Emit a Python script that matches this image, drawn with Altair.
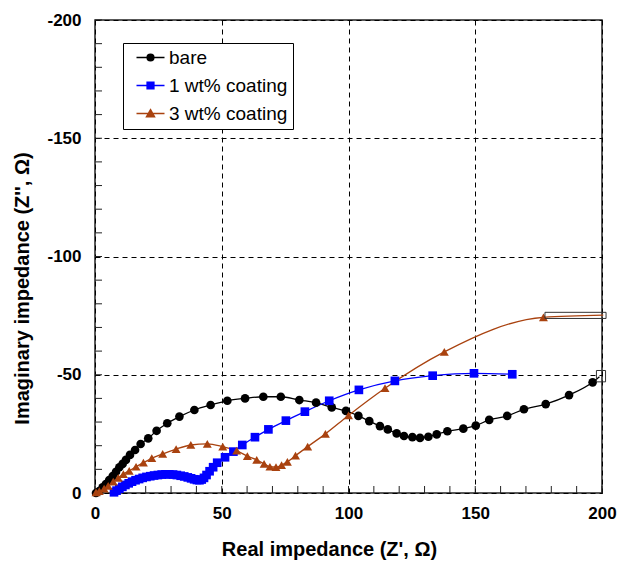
import altair as alt
import pandas as pd

# ---------------- data ----------------
series_names = ["bare", "1 wt% coating", "3 wt% coating"]
series_colors = ["#000000", "#0000FF", "#A9420F"]

bare_x = [0.4, 1.7, 3.0, 4.3, 5.6, 7.0, 8.3, 9.6, 10.9, 12.2, 13.8, 15.8, 18.0, 21.0,
          24.3, 28.5, 33.3, 39.2, 45.6, 52.2, 59.2, 66.4, 73.3, 80.6, 87.2, 93.4, 99.0,
          103.9, 108.2, 112.4, 115.5, 119.0, 121.9, 125.2, 128.2, 131.5, 134.8, 139.0,
          145.3, 150.2, 155.5, 162.6, 169.2, 177.8, 187.0, 196.3]
bare_y = [0.0, -0.8, -2.4, -3.8, -5.5, -7.2, -9.0, -10.9, -12.3, -14.0, -16.1, -18.2,
          -20.7, -23.1, -26.3, -29.5, -32.3, -35.1, -37.2, -39.0, -40.0, -40.7, -40.7,
          -39.3, -38.2, -36.2, -34.7, -32.6, -30.4, -28.3, -26.9, -25.2, -24.1, -23.6,
          -23.3, -23.8, -24.8, -26.1, -27.2, -28.5, -30.9, -32.6, -35.4, -37.6, -41.4, -46.8]

c1_x = [7.5, 8.5, 9.6, 10.8, 12.0, 13.3, 14.6, 16.0, 17.4, 18.8, 20.3, 21.8, 23.3, 24.8,
        26.3, 27.8, 29.3, 30.8, 32.3, 33.8, 35.2, 36.6, 37.9, 39.1, 40.2, 41.2, 42.1,
        43.0, 44.0, 45.2, 46.6, 48.2, 51.3, 54.6, 58.1, 63.1, 68.4, 75.3, 82.8, 92.4,
        104.1, 118.3, 133.2, 149.5, 164.6]
c1_y = [-0.3, -1.0, -1.8, -2.6, -3.4, -4.1, -4.8, -5.4, -5.9, -6.4, -6.8, -7.1, -7.4,
        -7.6, -7.8, -7.9, -7.9, -7.8, -7.6, -7.3, -7.0, -6.6, -6.2, -5.8, -5.5, -5.4,
        -5.7, -6.4, -7.6, -9.2, -10.9, -12.8, -15.1, -17.5, -20.3, -23.6, -26.9, -30.6,
        -34.4, -39.0, -43.6, -47.4, -49.6, -50.6, -50.2]

c3_x = [0.4, 1.7, 3.6, 5.2, 7.2, 9.2, 11.2, 13.5, 16.2, 19.1, 22.4, 26.7, 32.0, 37.8,
        44.3, 50.4, 55.9, 60.1, 63.8, 66.7, 69.0, 71.4, 73.6, 75.9, 79.1, 83.9, 90.9,
        100.0, 114.4, 137.8, 176.9]
c3_y = [-0.3, -0.8, -1.8, -3.0, -4.8, -6.4, -8.0, -9.4, -11.1, -12.8, -14.7, -16.5,
        -18.6, -20.3, -20.8, -19.6, -17.9, -15.6, -14.0, -12.3, -11.1, -10.9, -11.8,
        -13.2, -15.8, -19.6, -25.0, -32.8, -44.3, -59.7, -74.3]

# line continuation beyond the last marker (towards the open boxes at the right edge)
tail_series = ["bare", "3 wt% coating"]
tail_x = [199.0, 200.5]
tail_y = [-49.2, -75.2]

# open boxes drawn at the right edge of the plot
box_x = [197.8, 177.5]
box_x2 = [201.4, 201.6]
box_y = [-47.0, -73.8]
box_y2 = [-51.8, -76.4]

x_grid = [0, 50, 100, 150, 200]
y_grid = [-200, -150, -100, -50, 0]
x_minor = list(range(0, 201, 10))
y_minor = list(range(-200, 1, 10))

# ---------------- build tables ----------------
frames = []
for name, xs, ys in [(series_names[0], bare_x, bare_y),
                     (series_names[1], c1_x, c1_y),
                     (series_names[2], c3_x, c3_y)]:
    frames.append(pd.DataFrame({"series": name, "x": xs, "y": ys}))
pts = pd.concat(frames, ignore_index=True)
line_df = pd.concat([pts, pd.DataFrame({"series": tail_series, "x": tail_x, "y": tail_y})],
                    ignore_index=True)
box_df = pd.DataFrame({"x": box_x, "x2": box_x2, "y": box_y, "y2": box_y2})

W, H = 507, 473

xscale = alt.Scale(domain=[0, 200], nice=False, zero=False)
yscale = alt.Scale(domain=[-200, 0], nice=False, zero=False, reverse=True)

x_enc = alt.X("x:Q", scale=xscale,
              axis=alt.Axis(values=x_grid, title="Real impedance (Z', Ω)",
                            labelFlush=False, labelPadding=12,
                            titleX=234, titleY=62, titleAlign="center",
                            titleBaseline="alphabetic"))
y_enc = alt.Y("y:Q", scale=yscale,
              axis=alt.Axis(values=y_grid, title="Imaginary impedance (Z'', Ω)",
                            labelExpr="datum.value < 0 ? '-' + toString(-datum.value) : '0'",
                            labelFlush=False, labelPadding=14,
                            titleX=-67, titleY=268, titleAngle=270, titleAlign="center",
                            titleBaseline="alphabetic"))


# legend symbols: a short line with a solid marker (drawn by concentric strokes)
def circ(r):
    return f"M{r},0A{r},{r} 0 1,1 {-r},0A{r},{r} 0 1,1 {r},0Z"


def sq(a):
    return f"M{-a},{-a}H{a}V{a}H{-a}Z"


def tri(k):
    return f"M0,{-0.5 * k:.3f}L{0.52 * k:.3f},{0.42 * k:.3f}L{-0.52 * k:.3f},{0.42 * k:.3f}Z"


line_seg = "M-1.75,0H1.75"
legend_paths = [
    line_seg + "".join(circ(r) for r in [0.42, 0.28, 0.14, 0.04]),
    line_seg + "".join(sq(a) for a in [0.42, 0.28, 0.14, 0.04]),
    line_seg + "".join(tri(k) for k in [0.95, 0.65, 0.35, 0.08]),
]

# ---------------- layers ----------------
plot_color = alt.Color("series:N", scale=alt.Scale(domain=series_names, range=series_colors),
                       legend=None)

xticks = alt.Chart(pd.DataFrame({"x": x_minor})).mark_rule(color="#222", strokeWidth=1).encode(
    x=x_enc, y=alt.value(H), y2=alt.value(H - 7))
yticks = alt.Chart(pd.DataFrame({"y": y_minor})).mark_rule(color="#222", strokeWidth=1).encode(
    y=y_enc, x=alt.value(0), x2=alt.value(7))

lines = alt.Chart(line_df).mark_line(strokeWidth=1.3, interpolate="monotone").encode(
    x=x_enc, y=y_enc, color=plot_color)

marker_layers = []
for name, shp, sz in [(series_names[0], "circle", 75),
                      (series_names[1], "square", 75),
                      (series_names[2], "triangle-up", 80)]:
    marker_layers.append(
        alt.Chart(pts).transform_filter(alt.datum.series == name)
        .mark_point(filled=True, shape=shp, size=sz, opacity=1)
        .encode(x=x_enc, y=y_enc, color=plot_color))

boxes = alt.Chart(box_df).mark_rect(fillOpacity=0, stroke="#333", strokeWidth=1).encode(
    x=x_enc, x2="x2:Q", y=y_enc, y2="y2:Q")

plot_group = alt.layer(xticks, yticks, lines, *marker_layers, boxes)

legend_layer = alt.Chart(pts).transform_filter("false").mark_point(
    filled=False, opacity=1).encode(
    x=x_enc, y=y_enc,
    color=alt.Color("series:N", scale=alt.Scale(domain=series_names, range=series_colors),
                    legend=alt.Legend(title=None)),
    shape=alt.Shape("series:N", scale=alt.Scale(domain=series_names, range=legend_paths),
                    legend=alt.Legend(title=None)))

chart = alt.layer(plot_group, legend_layer).resolve_scale(
    color="independent", shape="independent"
).resolve_legend(
    color="independent", shape="independent"
).properties(
    width=W, height=H,
    autosize=alt.AutoSizeParams(type="none"),
    padding={"left": 95, "top": 20, "right": 18, "bottom": 73},
    background="white",
).configure_view(
    stroke="#222", strokeWidth=1.5
).configure_axis(
    labelFont="Arial", labelFontWeight="bold", labelFontSize=17, labelColor="#000",
    titleFont="Arial", titleFontWeight="bold", titleFontSize=20, titleColor="#000",
    domain=False, ticks=False, grid=True, gridDash=[5, 4], gridColor="#000",
    gridWidth=1, gridOpacity=1
).configure_legend(
    orient="none", legendX=28, legendY=23,
    labelFont="Arial", labelFontSize=19, labelColor="#000",
    symbolSize=256, symbolStrokeWidth=1.5, symbolOffset=13, labelOffset=9,
    symbolOpacity=1,
    padding=5, rowPadding=8, strokeColor="#000", fillColor="#fff"
)

chart.save("out.html", embed_options={"renderer": "svg", "actions": False})
